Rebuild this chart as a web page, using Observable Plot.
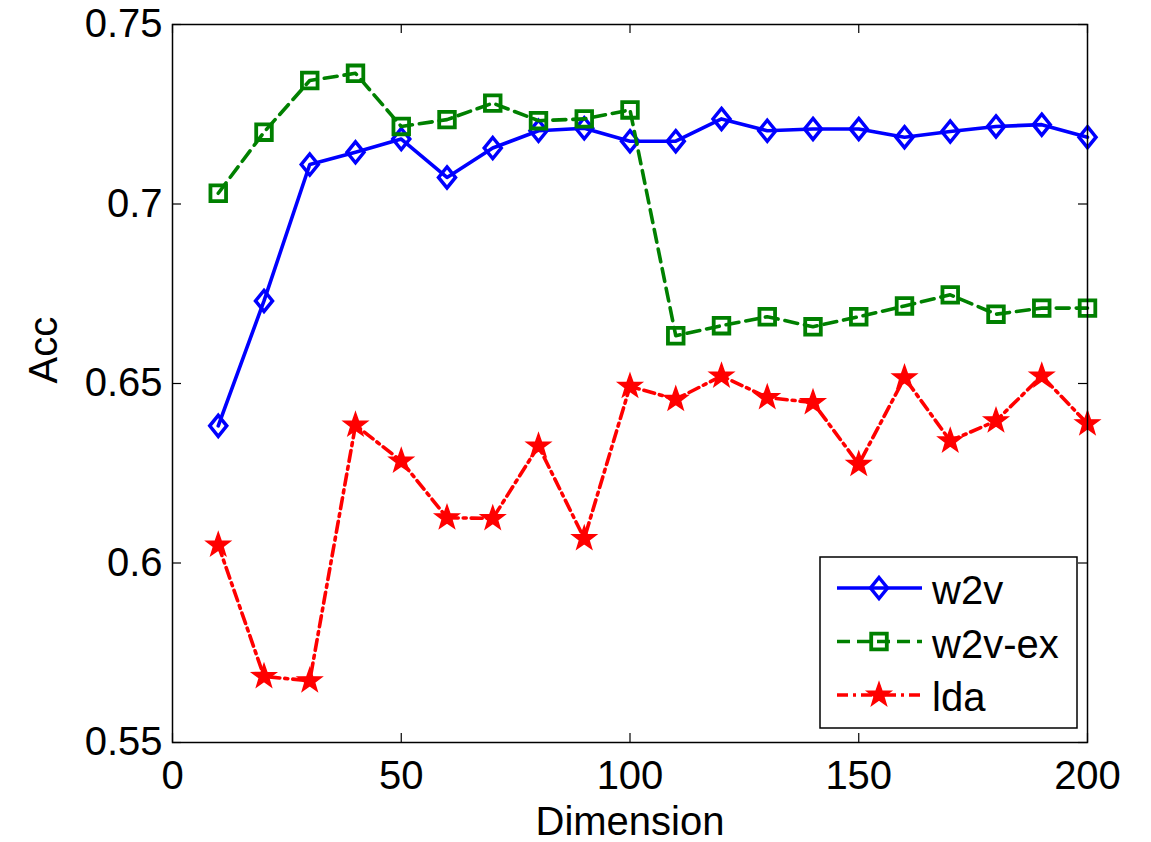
<!DOCTYPE html>
<html>
<head>
<meta charset="utf-8">
<script src="https://cdn.jsdelivr.net/npm/d3@7"></script>
<script src="https://cdn.jsdelivr.net/npm/@observablehq/plot@0.6"></script>
<style>
  html, body { margin: 0; padding: 0; background: #fff; }
  #chart svg { display: block; }
</style>
</head>
<body>
<div id="chart"></div>
<script>
// Accuracy against embedding dimension for three document representations
const dimensions = [10, 20, 30, 40, 50, 60, 70, 80, 90, 100, 110, 120, 130, 140, 150, 160, 170, 180, 190, 200];
const w2v   = [0.6382, 0.6730, 0.7110, 0.7144, 0.7181, 0.7074, 0.7156, 0.7204, 0.7211, 0.7175,
               0.7175, 0.7237, 0.7204, 0.7209, 0.7209, 0.7186, 0.7202, 0.7216, 0.7221, 0.7186];
const w2vEx = [0.7030, 0.7200, 0.7344, 0.7364, 0.7216, 0.7235, 0.7281, 0.7232, 0.7237, 0.7262,
               0.6633, 0.6661, 0.6686, 0.6658, 0.6686, 0.6716, 0.6747, 0.6693, 0.6710, 0.6710];
const lda   = [0.6050, 0.5684, 0.5672, 0.6384, 0.6284, 0.6126, 0.6124, 0.6326, 0.6068, 0.6492,
               0.6456, 0.6521, 0.6461, 0.6447, 0.6275, 0.6516, 0.6340, 0.6396, 0.6521, 0.6388];
const seriesNames = ["w2v", "w2v-ex", "lda"];
const xTicks = [0, 50, 100, 150, 200];
const yTicks = [0.55, 0.6, 0.65, 0.7, 0.75];
const xLabel = "Dimension";
const yLabel = "Acc";

// Marker shapes (size is the symbol area; radius = sqrt(size / PI))
const diamondSymbol = {
  draw(ctx, size) {
    const r = Math.sqrt(size / Math.PI);
    const w = r * 0.85, h = r * 1.05;
    ctx.moveTo(0, -h); ctx.lineTo(w, 0); ctx.lineTo(0, h); ctx.lineTo(-w, 0); ctx.closePath();
  }
};
const squareSymbol = {
  draw(ctx, size) {
    const r = Math.sqrt(size / Math.PI) * 0.78;
    ctx.rect(-r, -r, 2 * r, 2 * r);
  }
};
const starSymbol = {
  draw(ctx, size) {
    const R = Math.sqrt(size / Math.PI) * 1.25, ri = R * 0.4;
    for (let i = 0; i < 10; i++) {
      const a = -Math.PI / 2 + i * Math.PI / 5;
      const rr = i % 2 ? ri : R;
      const px = rr * Math.cos(a), py = rr * Math.sin(a);
      if (i === 0) ctx.moveTo(px, py); else ctx.lineTo(px, py);
    }
    ctx.closePath();
  }
};

const series = [
  {name: seriesNames[0], values: w2v,   color: "#0000ff", dash: null,         symbol: diamondSymbol, fill: "none",    sw: 3.5},
  {name: seriesNames[1], values: w2vEx, color: "#008000", dash: "13,7",       symbol: squareSymbol,  fill: "none",    sw: 3.8},
  {name: seriesNames[2], values: lda,   color: "#ff0000", dash: "11,5,3,5",   symbol: starSymbol,    fill: "#ff0000", sw: 1.5}
];

const W = 1151, H = 842;
const mL = 172, mR = 64, mT = 24, mB = 100;
const frameW = W - mL - mR, frameH = H - mT - mB;
const tickLen = 9;
const fontStack = "'Liberation Sans', Arial, sans-serif";

const dataMarks = [];
for (const s of series) {
  const rows = dimensions.map((d, i) => ({dim: d, acc: s.values[i]}));
  dataMarks.push(Plot.line(rows, {x: "dim", y: "acc", stroke: s.color, strokeWidth: 3.6, strokeDasharray: s.dash}));
  dataMarks.push(Plot.dot(rows, {x: "dim", y: "acc", symbol: s.symbol, r: 10, stroke: s.color, strokeWidth: s.sw, fill: s.fill}));
}

const plot = Plot.plot({
  width: W, height: H,
  marginLeft: mL, marginRight: mR, marginTop: mT, marginBottom: mB,
  style: {fontFamily: fontStack, fontSize: "40px", background: "#fff", color: "#000", overflow: "visible"},
  x: {domain: [0, 200]},
  y: {domain: [0.55, 0.75]},
  marks: [
    Plot.axisX(xTicks, {anchor: "bottom", tickSize: 0, tickPadding: 18, label: null, tickFormat: d => String(d), fontSize: 40}),
    Plot.axisY(yTicks, {anchor: "left", tickSize: 0, tickPadding: 10, label: null, tickFormat: d => String(d), fontSize: 40}),
    // inward ticks on all four sides
    Plot.ruleX(xTicks, {x: d => d, insetTop: frameH - tickLen, stroke: "#000", strokeWidth: 1.2}),
    Plot.ruleX(xTicks, {x: d => d, insetBottom: frameH - tickLen, stroke: "#000", strokeWidth: 1.2}),
    Plot.ruleY(yTicks, {y: d => d, insetRight: frameW - tickLen, stroke: "#000", strokeWidth: 1.2}),
    Plot.ruleY(yTicks, {y: d => d, insetLeft: frameW - tickLen, stroke: "#000", strokeWidth: 1.2}),
    ...dataMarks,
    Plot.frame({stroke: "#000", strokeWidth: 1.5}),
    Plot.text([yLabel], {text: d => d, frameAnchor: "left", dx: -128, rotate: -90, fontSize: 40, fill: "#000"}),
    Plot.text([xLabel], {text: d => d, frameAnchor: "bottom", dy: 92, lineAnchor: "bottom", fontSize: 40, fill: "#000"})
  ]
});

document.getElementById("chart").append(plot);

// Legend box in the lower right of the axes
const svg = d3.select(plot);
const leg = svg.append("g").attr("class", "legend");
const box = {x: 820, y: 557, w: 257, h: 171};
leg.append("rect")
  .attr("x", box.x).attr("y", box.y).attr("width", box.w).attr("height", box.h)
  .attr("fill", "#fff").attr("stroke", "#000").attr("stroke-width", 1.5);
series.forEach((s, i) => {
  const cy = 588 + i * 53.5;
  leg.append("line")
    .attr("x1", 837).attr("x2", 922).attr("y1", cy).attr("y2", cy)
    .attr("stroke", s.color).attr("stroke-width", 3.6)
    .attr("stroke-dasharray", s.dash);
  leg.append("path")
    .attr("transform", `translate(879,${cy})`)
    .attr("d", d3.symbol(s.symbol, 100 * Math.PI)())
    .attr("fill", s.fill === "none" ? "none" : s.fill)
    .attr("stroke", s.color).attr("stroke-width", s.sw);
  leg.append("text")
    .attr("x", 932).attr("y", cy + 16)
    .attr("text-anchor", "start")
    .attr("font-size", 40)
    .attr("font-family", fontStack)
    .attr("fill", "#000")
    .text(s.name);
});
</script>
</body>
</html>
